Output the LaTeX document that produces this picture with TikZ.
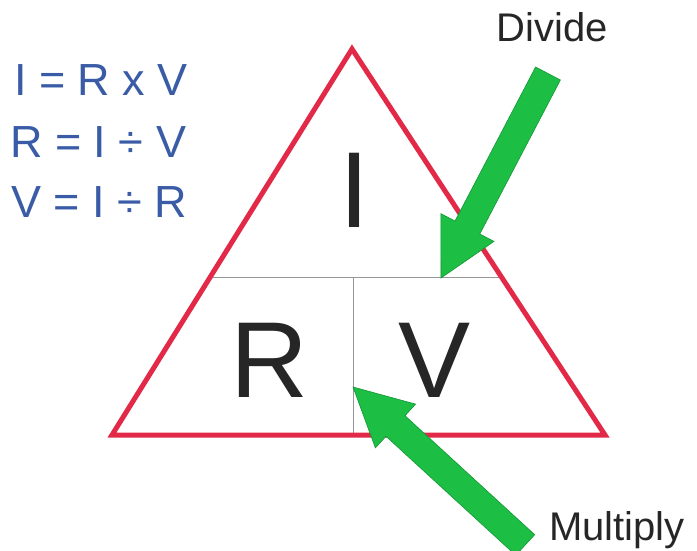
\documentclass[tikz,border=0pt]{standalone}
\usepackage{fontspec}
\setmainfont{Liberation Sans}
\usetikzlibrary{positioning, calc}

\definecolor{trired}{RGB}{226,42,72}
\definecolor{formblue}{RGB}{58,92,166}
\definecolor{arrowgreen}{RGB}{28,190,68}
\definecolor{arrowedge}{RGB}{20,150,55}
\definecolor{divgrey}{RGB}{150,150,150}

\begin{document}
\begin{tikzpicture}[
    x=1pt, y=-1pt,
    triangle/.style={draw=trired, line width=5pt, line join=miter},
    divider/.style={draw=divgrey, line width=1pt},
    bigletter/.style={anchor=base, inner sep=0pt, text=black!85, font=\fontsize{108}{120}\selectfont},
    formula/.style={anchor=base west, inner sep=0pt, text=formblue, font=\fontsize{45}{52}\selectfont},
    caption/.style={inner sep=0pt, text=black!85, font=\fontsize{40}{46}\selectfont},
    bigarrow/.style={fill=arrowgreen, draw=arrowedge, line width=0.6pt, line join=miter}
]

\clip (0,0) rectangle (697,550);

% Dreieck
\coordinate (top) at (352,49);
\coordinate (bl) at (112,435);
\coordinate (br) at (605,435);
\coordinate (hl) at ($(top)!0.5907!(bl)$);
\coordinate (hr) at ($(top)!0.5907!(br)$);
\coordinate (vt) at (353,277);
\coordinate (vb) at (353,435);

\draw[divider] (hl) -- (hr);
\draw[divider] (vt) -- (vb);
\draw[triangle] (top) -- (bl) -- (br) -- cycle;

% Buchstaben
\node[bigletter] (I) at (354.5,227) {I};
\node[bigletter] (R) at (269,397) {R};
\node[bigletter] (V) at (434.5,397) {V};

% Formeln
\node[formula] (f1) at (14,95) {I = R x V};
\node[formula] (f2) at (10,157) {R = I ÷ V};
\node[formula] (f3) at (11,217) {V = I ÷ R};

% Beschriftungen
\node[caption, anchor=base] (divide) at (552,41) {Divide};
\node[caption, anchor=base west] (multiply) at (549,540) {Multiply};

% Pfeile
\filldraw[bigarrow] (535.6,67) -- (560.4,80) -- (479.8,234) -- (494,241.4)
    -- (441,278) -- (440.8,213.6) -- (455,221) -- cycle;
\filldraw[bigarrow] (353,387) -- (415.6,404.1) -- (405,415.7) -- (534.7,534.7)
    -- (515.7,555.3) -- (386,436.3) -- (375.4,447.9) -- cycle;

\end{tikzpicture}
\end{document}
